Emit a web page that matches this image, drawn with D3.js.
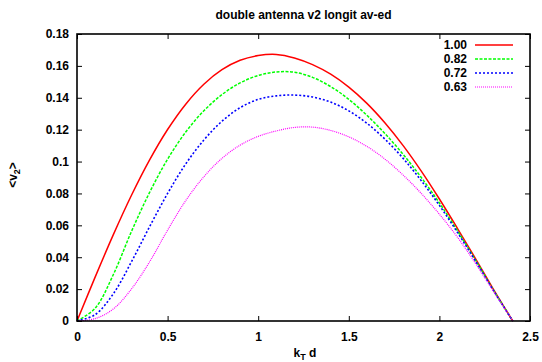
<!DOCTYPE html>
<html><head><meta charset="utf-8">
<script src="https://cdn.jsdelivr.net/npm/d3@7"></script>
<style>
body{margin:0;background:#fff;}
svg text{font-family:"Liberation Sans",Arial,Helvetica,sans-serif;font-weight:bold;}
</style></head>
<body>
<svg id="chart" width="542" height="362"></svg>
<script>
const title = "double antenna v2 longit av-ed";
const xValues = [0,0.1,0.2,0.3,0.4,0.5,0.6,0.7,0.8,0.9,1.0,1.1,1.2,1.3,1.4,1.5,1.6,1.7,1.8,1.9,2.0,2.1,2.2,2.3,2.405];
const seriesNames = ["1.00","0.82","0.72","0.63"];
const red     = [0,0.0275,0.054,0.0787,0.1009,0.1201,0.136,0.1485,0.1576,0.1635,0.1665,0.1672,0.165,0.1608,0.1548,0.1467,0.1365,0.1242,0.110,0.094,0.0765,0.058,0.039,0.0195,0];
const green   = [0,0.008,0.029,0.056,0.0805,0.1015,0.1185,0.1318,0.142,0.1493,0.154,0.1562,0.156,0.1528,0.147,0.139,0.129,0.1175,0.1045,0.09,0.074,0.0565,0.038,0.019,0];
const blue    = [0,0.004,0.017,0.037,0.059,0.080,0.0985,0.1135,0.1253,0.1338,0.139,0.1412,0.1417,0.1405,0.1373,0.1318,0.124,0.114,0.102,0.088,0.0725,0.0555,0.0375,0.0188,0];
const magenta = [0,0.0015,0.0075,0.020,0.037,0.057,0.0755,0.0905,0.102,0.1103,0.1158,0.1192,0.1214,0.1216,0.1195,0.1155,0.1095,0.1015,0.0915,0.080,0.067,0.0525,0.036,0.0183,0];
const xTicks = [0,0.5,1,1.5,2,2.5];
const xTickLabels = ["0","0.5","1","1.5","2","2.5"];
const yTicks = [0,0.02,0.04,0.06,0.08,0.1,0.12,0.14,0.16,0.18];
const yTickLabels = ["0","0.02","0.04","0.06","0.08","0.1","0.12","0.14","0.16","0.18"];

const seriesData = [red, green, blue, magenta];
const colors = ["#ff0000","#00ff00","#0000ff","#ff00ff"];
const dashes = [null,"3,1.5","2,2","1,1"];
const widths = [1.5,1.5,1.6,1.2];

const svg = d3.select("#chart");
const L = 77, R = 530, T = 34, B = 321;
const x = d3.scaleLinear().domain([0,2.5]).range([L,R]);
const y = d3.scaleLinear().domain([0,0.18]).range([B,T]);

svg.append("text").attr("x",(L+R)/2).attr("y",19).attr("text-anchor","middle")
  .attr("font-size",12).text(title);

const line = d3.line().x((d,i)=>x(xValues[i])).y(d=>y(d)).curve(d3.curveCatmullRom.alpha(0.5));
const g = svg.append("g");
seriesData.forEach((s,k)=>{
  g.append("path").attr("d",line(s)).attr("fill","none")
    .attr("stroke",colors[k]).attr("stroke-width",widths[k])
    .attr("stroke-dasharray",dashes[k]);
});

const fmtX = d => xTickLabels[xTicks.indexOf(d)];
const fmtY = d => yTickLabels[yTicks.indexOf(d)];
const axB = svg.append("g").attr("transform",`translate(0,${B})`)
  .call(d3.axisBottom(x).tickValues(xTicks).tickFormat(fmtX).tickSizeInner(-5).tickSizeOuter(0).tickPadding(12));
const axT = svg.append("g").attr("transform",`translate(0,${T})`)
  .call(d3.axisTop(x).tickValues(xTicks).tickFormat("").tickSizeInner(-5).tickSizeOuter(0));
const axL = svg.append("g").attr("transform",`translate(${L},0)`)
  .call(d3.axisLeft(y).tickValues(yTicks).tickFormat(fmtY).tickSizeInner(-5).tickSizeOuter(0).tickPadding(8));
const axR = svg.append("g").attr("transform",`translate(${R},0)`)
  .call(d3.axisRight(y).tickValues(yTicks).tickFormat("").tickSizeInner(-5).tickSizeOuter(0));
[axB,axT,axL,axR].forEach(a=>{
  a.select(".domain").remove();
  a.selectAll("line").attr("stroke","#000").attr("stroke-width",1);
  a.selectAll("text").attr("font-size",12).attr("fill","#000")
    .style("font-family",'"Liberation Sans",Arial,sans-serif').style("font-weight","bold");
});
axB.selectAll("text").attr("dy","0.71em").attr("y",11);
svg.append("rect").attr("x",L).attr("y",T).attr("width",R-L).attr("height",B-T)
  .attr("fill","none").attr("stroke","#000").attr("stroke-width",1.6);

const xl = svg.append("text").attr("x",305).attr("y",357).attr("text-anchor","middle").attr("font-size",12);
xl.append("tspan").text("k");
xl.append("tspan").attr("font-size",9).attr("dy",3).text("T");
xl.append("tspan").attr("dy",-3).text(" d");
const yl = svg.append("text").attr("transform","translate(17,175) rotate(-90)").attr("text-anchor","middle").attr("font-size",12);
yl.append("tspan").text("<v");
yl.append("tspan").attr("font-size",9).attr("dy",3).text("2");
yl.append("tspan").attr("dy",-3).text(">");

const legY0 = 45, legDy = 14;
seriesNames.forEach((n,k)=>{
  const yy = legY0 + k*legDy;
  svg.append("text").attr("x",467).attr("y",yy).attr("dy","0.35em").attr("text-anchor","end")
    .attr("font-size",12).text(n);
  svg.append("line").attr("x1",475).attr("x2",513).attr("y1",yy).attr("y2",yy)
    .attr("stroke",colors[k]).attr("stroke-width",widths[k]).attr("stroke-dasharray",dashes[k]);
});
</script>
</body></html>
